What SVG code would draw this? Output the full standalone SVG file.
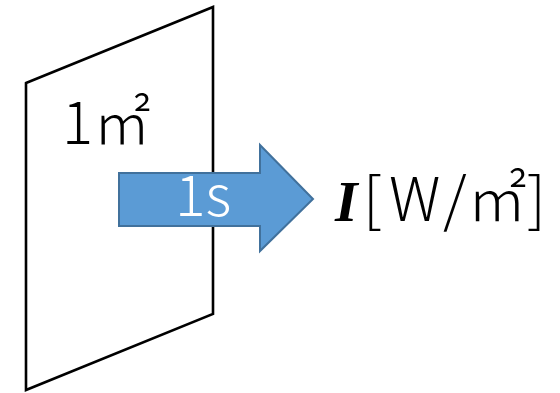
<svg xmlns="http://www.w3.org/2000/svg" width="560" height="393" viewBox="0 0 560 393">
<style>
.plane{fill:none;stroke:#000;stroke-width:2.6;stroke-linejoin:miter}
.arrow{fill:#5B9BD5;stroke:#41719C;stroke-width:2}
.jp{font-family:"Noto Sans CJK JP","Noto Sans",sans-serif;font-weight:300}
</style>
<rect width="560" height="393" fill="#fff"/>
<g id="plane">
<polygon class="plane" points="26,83 213,7 213,314 26,390"/>
<text class="jp" x="62" y="144" font-size="58" fill="#000">1㎡</text>
</g>
<g id="connectors">
<g id="flow">
<polygon class="arrow" points="119,173 260,173 260,145 313,199 260,251 260,226 119,226"/>
<text class="jp" x="175" y="216" font-size="57" fill="#fff">1s</text>
</g>
</g>
<g id="label">
<text x="335" y="221" font-family="'Liberation Serif',serif" font-style="italic" font-weight="bold" font-size="58" fill="#000">I</text>
<text class="jp" y="221" font-size="60" fill="#000"><tspan x="363">[</tspan><tspan x="389">W</tspan><tspan x="443">/</tspan><tspan x="467">㎡]</tspan></text>
</g>
</svg>
